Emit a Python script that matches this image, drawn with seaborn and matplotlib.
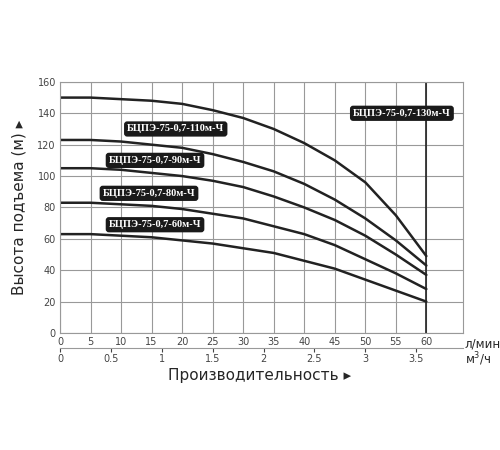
import matplotlib
matplotlib.use("Agg")
import matplotlib.pyplot as plt
import seaborn as sns
import pandas as pd

sns.set_style("white")
plt.rcParams['font.family'] = ['DejaVu Sans']

# Расход, л/мин
flow = [0, 5, 10, 15, 20, 25, 30, 35, 40, 45, 50, 55, 60]
h130 = [150, 150, 149, 148, 146, 142, 137, 130, 121, 110, 96, 75, 49]
h110 = [123, 123, 122, 120, 118, 114, 109, 103, 95, 85, 73, 59, 43]
h90 = [105, 105, 104, 102, 100, 97, 93, 87, 80, 72, 62, 50, 37]
h80 = [83, 83, 82, 81, 79, 76, 73, 68, 63, 56, 47, 38, 28]
h60 = [63, 63, 62, 61, 59, 57, 54, 51, 46, 41, 34, 27, 20]
names = ["БЦПЭ-75-0,7-130м-Ч", "БЦПЭ-75-0,7-110м-Ч", "БЦПЭ-75-0,7-90м-Ч",
         "БЦПЭ-75-0,7-80м-Ч", "БЦПЭ-75-0,7-60м-Ч"]
label_pos = [(48, 140), (11, 130), (8, 110), (7, 89), (8, 69)]

rows = []
for name, h in zip(names, [h130, h110, h90, h80, h60]):
    for q, v in zip(flow, h):
        rows.append({"q": q, "h": v, "pump": name})
df = pd.DataFrame(rows)

fig = plt.figure(figsize=(5, 4.5), dpi=100)
ax = fig.add_axes([0.12, 0.26, 0.806, 0.558])
sns.lineplot(data=df, x="q", y="h", hue="pump", palette=["#222222"] * 5,
             linewidth=1.8, legend=False, ax=ax)

ax.set_xlim(0, 66)
ax.set_ylim(0, 160)
ax.set_xticks(range(0, 61, 5))
ax.set_yticks(range(0, 161, 20))
ax.grid(True, color="#999999", linewidth=0.8)
ax.axvline(60, color="#222222", linewidth=1.2)
for s in ax.spines.values():
    s.set_color("#999999")
ax.tick_params(labelsize=7, colors="#444444", length=2, pad=1)
ax.set_xlabel("")
ax.set_ylabel("Высота подъема (м) ▸", fontsize=11, labelpad=8)
ax.text(66.3, -7, "л/мин", fontsize=8.5, va="center")

for name, (x, y) in zip(names, label_pos):
    ax.text(x, y, name, fontsize=7.5, color="white", fontweight="bold",
            family="Liberation Serif", va="center",
            bbox=dict(boxstyle="round,pad=0.3", fc="#1a1a1a", ec="none"))

sec = ax.secondary_xaxis(-0.06, functions=(lambda q: q * 0.06, lambda m: m / 0.06))
sec.set_xticks([0, 0.5, 1, 1.5, 2, 2.5, 3, 3.5])
sec.set_xticklabels(["0", "0.5", "1", "1.5", "2", "2.5", "3", "3.5"])
sec.tick_params(labelsize=7, colors="#444444", length=3, pad=1)
sec.spines["bottom"].set_color("#999999")
ax.text(66.3, -17, "м$^3$/ч", fontsize=8.5, va="center")

fig.text(0.52, 0.165, "Производительность ▸", fontsize=11, ha="center", va="center")
fig.savefig("out.png")
